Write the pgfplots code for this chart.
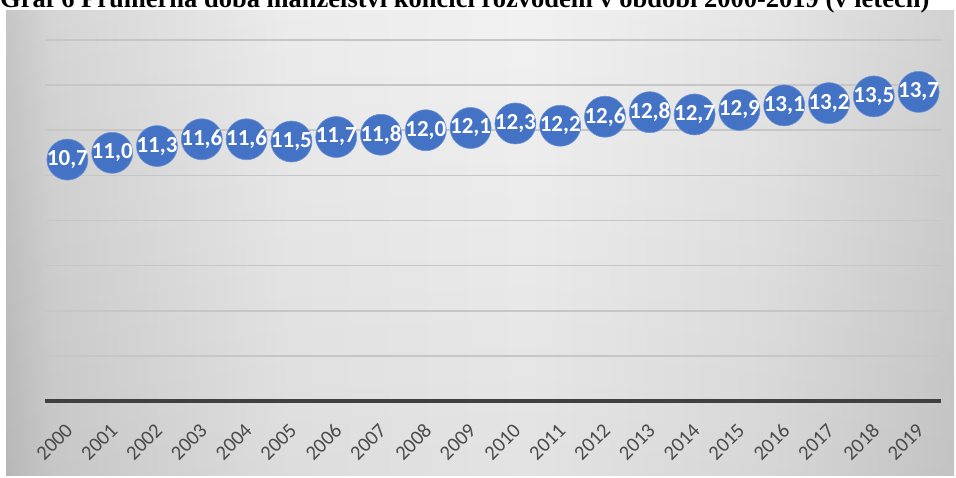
\documentclass[border=0pt]{standalone}
\usepackage{pgfplots}
\pgfplotsset{compat=1.18}
\usepackage{fontspec}
\setmainfont{Carlito}
\newfontfamily\titlefont{Liberation Serif}
\definecolor{dotblue}{HTML}{4472C4}
\definecolor{dotedge}{HTML}{6E93D6}
\definecolor{gridc}{HTML}{C6C6C6}
\definecolor{basec}{HTML}{404040}
\definecolor{tickc}{HTML}{4A4A4A}
\definecolor{bgA}{HTML}{C3C3C3}
\definecolor{bgB}{HTML}{D3D3D3}
\definecolor{bgC}{HTML}{EBEBEB}
\definecolor{bgD}{HTML}{F1F1F1}
\definecolor{bgE}{HTML}{E4E4E4}
\definecolor{bgF}{HTML}{CFCFCF}
\pgfdeclarehorizontalshading{bgh}{100bp}{color(0bp)=(bgA); color(25bp)=(bgA); color(27.5bp)=(bgB); color(40bp)=(bgC); color(52.5bp)=(bgD); color(65bp)=(bgE); color(75bp)=(bgF); color(100bp)=(bgF)}
\begin{document}
\begin{tikzpicture}[x=1pt,y=1pt]
\useasboundingbox (0,0) rectangle (956,478);
\clip (0,0) rectangle (956,478);
\shade[shading=bgh] (6,2) rectangle (954,467);
\shade[top color=white, bottom color=black, fill opacity=0.06] (6,2) rectangle (954,467);
\node[anchor=base west, inner sep=0, font=\titlefont\bfseries\fontsize{26.5}{30}\selectfont] at (0,470) {Graf 6 Průměrná doba manželství končící rozvodem v období 2000-2019 (v letech)};
\begin{axis}[
  at={(45pt,77pt)}, anchor=south west,
  scale only axis, width=896pt, height=361pt,
  xmin=-0.5, xmax=19.5, ymin=0, ymax=16,
  axis x line*=bottom, axis y line*=left,
  x axis line style={line width=3.5pt, color=basec},
  y axis line style={draw=none},
  ytick={0,2,...,16}, yticklabels={},
  ymajorgrids, grid style={line width=1.6pt, color=gridc},
  major tick length=0pt,
  xtick={0,...,19},
  xticklabels={2000,2001,2002,2003,2004,2005,2006,2007,2008,2009,2010,2011,2012,2013,2014,2015,2016,2017,2018,2019},
  x tick label style={xshift=-3pt, yshift=-21pt, rotate=45, anchor=north east, inner sep=0pt, font=\fontsize{20.5}{20.5}\selectfont, text=tickc},
  clip=false,
  nodes near coords,
  every node near coord/.append style={anchor=center, inner sep=0pt, font=\bfseries\fontsize{23}{23}\selectfont, text=white},
  /pgf/number format/.cd, fixed, fixed zerofill, precision=1, use comma, assume math mode=true,
]
\addplot[only marks, mark=*, mark size=20.5pt, mark options={fill=dotblue, draw=dotedge, line width=0.6pt}] coordinates {
(0,10.7) (1,11.0) (2,11.3) (3,11.6) (4,11.6) (5,11.5) (6,11.7) (7,11.8) (8,12.0) (9,12.1)
(10,12.3) (11,12.2) (12,12.6) (13,12.8) (14,12.7) (15,12.9) (16,13.1) (17,13.2) (18,13.5) (19,13.7)
};
\end{axis}
\end{tikzpicture}
\end{document}
